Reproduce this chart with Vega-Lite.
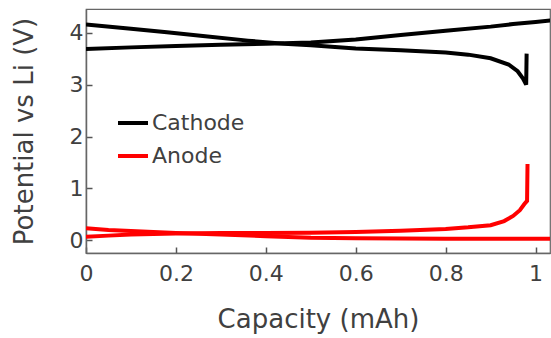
{
  "$schema": "https://vega.github.io/schema/vega-lite/v6.json",
  "width": 464,
  "height": 244,
  "autosize": {"type": "none"},
  "padding": {"left": 86, "top": 9, "right": 1, "bottom": 85},
  "background": "white",
  "config": {
    "view": {"stroke": "#666", "strokeWidth": 1.2},
    "font": "DejaVu Sans",
    "axis": {
      "grid": false,
      "labelFlush": false,
      "domainColor": "#666",
      "domainWidth": 1.5,
      "tickColor": "#555",
      "tickWidth": 1.5,
      "tickSize": -6,
      "labelFont": "DejaVu Sans",
      "labelFontSize": 22,
      "labelColor": "#404040",
      "titleFont": "DejaVu Sans",
      "titleFontSize": 26,
      "titleFontWeight": "normal",
      "titleColor": "#404040"
    }
  },
  "data": {
    "values": [
      {"e": "Cathode", "c": "charge", "x": 0.0, "y": 3.69},
      {"e": "Cathode", "c": "charge", "x": 0.1, "y": 3.72},
      {"e": "Cathode", "c": "charge", "x": 0.2, "y": 3.745},
      {"e": "Cathode", "c": "charge", "x": 0.3, "y": 3.77},
      {"e": "Cathode", "c": "charge", "x": 0.4, "y": 3.79},
      {"e": "Cathode", "c": "charge", "x": 0.5, "y": 3.815},
      {"e": "Cathode", "c": "charge", "x": 0.6, "y": 3.87},
      {"e": "Cathode", "c": "charge", "x": 0.7, "y": 3.96},
      {"e": "Cathode", "c": "charge", "x": 0.8, "y": 4.04},
      {"e": "Cathode", "c": "charge", "x": 0.9, "y": 4.12},
      {"e": "Cathode", "c": "charge", "x": 0.95, "y": 4.17},
      {"e": "Cathode", "c": "charge", "x": 1.0, "y": 4.21},
      {"e": "Cathode", "c": "charge", "x": 1.04, "y": 4.245},
      {"e": "Cathode", "c": "discharge", "x": 0.0, "y": 4.16},
      {"e": "Cathode", "c": "discharge", "x": 0.1, "y": 4.08},
      {"e": "Cathode", "c": "discharge", "x": 0.18, "y": 4.01},
      {"e": "Cathode", "c": "discharge", "x": 0.26, "y": 3.94},
      {"e": "Cathode", "c": "discharge", "x": 0.36, "y": 3.85},
      {"e": "Cathode", "c": "discharge", "x": 0.44, "y": 3.79},
      {"e": "Cathode", "c": "discharge", "x": 0.5, "y": 3.76},
      {"e": "Cathode", "c": "discharge", "x": 0.6, "y": 3.7},
      {"e": "Cathode", "c": "discharge", "x": 0.7, "y": 3.665},
      {"e": "Cathode", "c": "discharge", "x": 0.8, "y": 3.62},
      {"e": "Cathode", "c": "discharge", "x": 0.85, "y": 3.58},
      {"e": "Cathode", "c": "discharge", "x": 0.9, "y": 3.51},
      {"e": "Cathode", "c": "discharge", "x": 0.94, "y": 3.39},
      {"e": "Cathode", "c": "discharge", "x": 0.96, "y": 3.26},
      {"e": "Cathode", "c": "discharge", "x": 0.972, "y": 3.12},
      {"e": "Cathode", "c": "discharge", "x": 0.979, "y": 3.0},
      {"e": "Cathode", "c": "discharge", "x": 0.98, "y": 3.6},
      {"e": "Anode", "c": "charge", "x": 0.0, "y": 0.23},
      {"e": "Anode", "c": "charge", "x": 0.05, "y": 0.2},
      {"e": "Anode", "c": "charge", "x": 0.1, "y": 0.18},
      {"e": "Anode", "c": "charge", "x": 0.15, "y": 0.16},
      {"e": "Anode", "c": "charge", "x": 0.2, "y": 0.14},
      {"e": "Anode", "c": "charge", "x": 0.3, "y": 0.11},
      {"e": "Anode", "c": "charge", "x": 0.4, "y": 0.08},
      {"e": "Anode", "c": "charge", "x": 0.5, "y": 0.05},
      {"e": "Anode", "c": "charge", "x": 0.6, "y": 0.04},
      {"e": "Anode", "c": "charge", "x": 0.8, "y": 0.03},
      {"e": "Anode", "c": "charge", "x": 1.04, "y": 0.03},
      {"e": "Anode", "c": "discharge", "x": 0.0, "y": 0.07},
      {"e": "Anode", "c": "discharge", "x": 0.05, "y": 0.09},
      {"e": "Anode", "c": "discharge", "x": 0.1, "y": 0.11},
      {"e": "Anode", "c": "discharge", "x": 0.2, "y": 0.13},
      {"e": "Anode", "c": "discharge", "x": 0.3, "y": 0.14},
      {"e": "Anode", "c": "discharge", "x": 0.4, "y": 0.14},
      {"e": "Anode", "c": "discharge", "x": 0.5, "y": 0.145},
      {"e": "Anode", "c": "discharge", "x": 0.6, "y": 0.16},
      {"e": "Anode", "c": "discharge", "x": 0.7, "y": 0.185},
      {"e": "Anode", "c": "discharge", "x": 0.8, "y": 0.22},
      {"e": "Anode", "c": "discharge", "x": 0.85, "y": 0.25},
      {"e": "Anode", "c": "discharge", "x": 0.9, "y": 0.29},
      {"e": "Anode", "c": "discharge", "x": 0.93, "y": 0.37},
      {"e": "Anode", "c": "discharge", "x": 0.95, "y": 0.47},
      {"e": "Anode", "c": "discharge", "x": 0.965, "y": 0.58},
      {"e": "Anode", "c": "discharge", "x": 0.975, "y": 0.7},
      {"e": "Anode", "c": "discharge", "x": 0.981, "y": 0.76},
      {"e": "Anode", "c": "discharge", "x": 0.982, "y": 1.47}
    ]
  },
  "mark": {"type": "line", "strokeWidth": 4, "clip": true, "strokeCap": "butt"},
  "encoding": {
    "x": {
      "field": "x",
      "type": "quantitative",
      "scale": {"domain": [0, 1.032], "nice": false, "zero": false},
      "axis": {"values": [0, 0.2, 0.4, 0.6, 0.8, 1], "format": "~g", "title": "Capacity (mAh)", "labelPadding": 16, "titlePadding": 22}
    },
    "y": {
      "field": "y",
      "type": "quantitative",
      "scale": {"domain": [-0.245, 4.46], "nice": false, "zero": false},
      "axis": {"values": [0, 1, 2, 3, 4], "title": "Potential vs Li (V)", "labelPadding": 9, "titlePadding": 32}
    },
    "color": {
      "field": "e",
      "type": "nominal",
      "scale": {"domain": ["Cathode", "Anode"], "range": ["black", "red"]},
      "legend": {
        "title": null,
        "orient": "none",
        "legendX": 30,
        "legendY": 97,
        "symbolType": "stroke",
        "symbolSize": 900,
        "symbolStrokeWidth": 4,
        "labelFontSize": 22,
        "labelFont": "DejaVu Sans",
        "labelColor": "#404040",
        "labelOffset": 2,
        "rowPadding": 5
      }
    },
    "detail": {"field": "c", "type": "nominal"}
  }
}
